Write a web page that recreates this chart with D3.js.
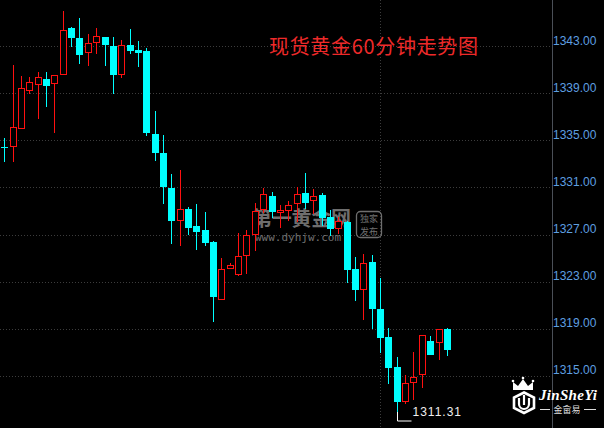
<!DOCTYPE html>
<html>
<head>
<meta charset="utf-8">
<script src="https://cdn.jsdelivr.net/npm/d3@7/dist/d3.min.js"></script>
<style>
html,body{margin:0;padding:0;background:#000;overflow:hidden;}
svg{display:block;}
</style>
</head>
<body>
<div id="chart"></div>
<script>
// ---- data ----
const titleText = "现货黄金60分钟走势图";
const openVals  = [1334.45,1334.50,1336.03,1339.26,1339.77,1340.20,1339.85,1340.62,1344.56,1343.71,
                   1342.49,1343.34,1343.79,1343.03,1340.62,1343.11,1342.69,1342.60,1335.55,1333.93,
                   1330.93,1328.26,1329.14,1327.72,1327.38,1326.36,1321.54,1324.13,1323.64,1325.23,
                   1327.02,1329.17,1330.30,1328.95,1329.07,1329.65,1330.53,1329.91,1330.33,1328.49,
                   1327.53,1328.06,1324.07,1322.40,1324.66,1320.64,1318.26,1315.71,1312.87,1314.44,
                   1315.12,1317.95,1317.84,1318.94];
const highVals  = [1335.20,1341.41,1340.48,1340.36,1340.82,1340.82,1340.54,1346.00,1344.64,1345.41,
                   1344.05,1344.56,1343.79,1343.79,1343.54,1344.47,1343.45,1342.86,1337.50,1335.46,
                   1332.14,1332.48,1329.34,1329.59,1328.91,1326.45,1325.00,1324.58,1327.13,1327.38,
                   1329.65,1330.93,1330.59,1329.51,1329.82,1331.01,1332.23,1330.84,1330.50,1329.06,
                   1328.49,1328.15,1325.06,1325.32,1325.23,1323.30,1319.03,1316.57,1315.03,1317.01,
                   1318.43,1318.37,1318.94,1319.03];
const lowVals   = [1333.28,1333.28,1336.03,1339.06,1336.93,1337.95,1335.74,1340.62,1343.05,1341.61,
                   1341.44,1342.46,1341.44,1339.06,1340.42,1342.46,1341.35,1335.49,1333.36,1329.65,
                   1326.30,1326.11,1327.07,1325.79,1326.13,1319.67,1321.54,1324.13,1323.56,1323.73,
                   1325.71,1328.91,1328.51,1327.67,1328.22,1328.19,1329.23,1328.80,1327.81,1327.00,
                   1327.10,1322.99,1321.46,1319.84,1319.08,1317.04,1314.40,1311.31,1312.65,1312.98,
                   1314.06,1316.87,1316.44,1316.76];
const closeVals = [1334.40,1336.11,1339.43,1339.94,1340.36,1339.74,1340.54,1344.36,1343.82,1342.37,
                   1343.26,1343.85,1343.22,1340.67,1343.09,1342.71,1342.54,1335.74,1334.04,1331.15,
                   1328.26,1329.14,1327.67,1327.32,1326.39,1321.80,1324.04,1324.38,1325.17,1326.93,
                   1328.96,1330.44,1329.03,1329.05,1329.49,1330.42,1329.79,1330.25,1328.51,1327.57,
                   1328.15,1324.09,1322.40,1324.55,1320.78,1318.25,1315.76,1312.87,1314.35,1314.91,
                   1318.43,1316.87,1318.94,1317.29];
const yTickVals = [1343, 1339, 1335, 1331, 1327, 1323, 1319, 1315];
const separatorIdx = [45];
const lowLabel = "1311.31";

// ---- setup ----
const W = 604, H = 428;
const svg = d3.select("#chart").append("svg").attr("width", W).attr("height", H)
  .style("background", "#000");
svg.append("rect").attr("width", W).attr("height", H).attr("fill", "#000");

const candles = openVals.map((o, i) => ({i, o, h: highVals[i], l: lowVals[i], c: closeVals[i]}));

const axisX = 552;
const x = d3.scalePoint().domain(d3.range(candles.length)).range([4.3, 446.9]);
const y = d3.scaleLinear().domain([1315, 1343]).range([375.7, 46.3]);

// horizontal dotted grid
svg.append("g").selectAll("line").data(yTickVals).join("line")
  .attr("x1", 0).attr("x2", axisX)
  .attr("y1", d => Math.round(y(d)) + 0.5).attr("y2", d => Math.round(y(d)) + 0.5)
  .attr("stroke", "#3c3c3c").attr("stroke-dasharray", "1,2");

// vertical dotted separator
svg.append("g").selectAll("line").data(separatorIdx).join("line")
  .attr("x1", d => Math.round(x(d)) + 0.5).attr("x2", d => Math.round(x(d)) + 0.5)
  .attr("y1", 0).attr("y2", H)
  .attr("stroke", "#3c3c3c").attr("stroke-dasharray", "1,2");

// right axis
const axis = d3.axisRight(y).tickValues(yTickVals).tickFormat(d3.format(".2f")).tickSize(0).tickPadding(1);
const gAxis = svg.append("g").attr("transform", `translate(${axisX},0)`).call(axis);
gAxis.select(".domain").remove();
gAxis.selectAll("text").attr("fill", "#5e9fe0").attr("font-size", 12)
  .attr("font-family", "'Liberation Sans', Arial, sans-serif")
  .attr("dy", "-0.15em").attr("x", 1);
svg.append("line").attr("x1", axisX + 0.5).attr("x2", axisX + 0.5).attr("y1", 0).attr("y2", H)
  .attr("stroke", "#4a4f57").attr("stroke-width", 1);

// title
svg.append("text").attr("x", 269).attr("y", 54).text(titleText)
  .attr("fill", "#ee2a2a").attr("font-size", 20).attr("textLength", 209)
  .attr("font-family", "'Noto Sans CJK SC', sans-serif");

// watermark
const wm = svg.append("g").attr("opacity", 0.78);
wm.append("text").attr("x", 252).attr("y", 226).text("第一黄金网")
  .attr("fill", "#8e8e8e").attr("font-size", 20).attr("font-weight", "bold")
  .attr("font-family", "'Noto Sans CJK SC', sans-serif").attr("textLength", 99);
wm.append("text").attr("x", 255).attr("y", 241).text("www.dyhjw.com")
  .attr("fill", "#8e8e8e").attr("font-size", 11)
  .attr("font-family", "'DejaVu Sans Mono', monospace").attr("textLength", 86);
wm.append("rect").attr("x", 356.5).attr("y", 211.5).attr("width", 25).attr("height", 26).attr("rx", 4)
  .attr("fill", "none").attr("stroke", "#8e8e8e").attr("stroke-width", 1.3);
wm.append("text").attr("x", 369).attr("y", 222).attr("text-anchor", "middle").text("独家")
  .attr("fill", "#8e8e8e").attr("font-size", 9).attr("font-family", "'Noto Sans CJK SC', sans-serif");
wm.append("text").attr("x", 369).attr("y", 235).attr("text-anchor", "middle").text("发布")
  .attr("fill", "#8e8e8e").attr("font-size", 9).attr("font-family", "'Noto Sans CJK SC', sans-serif");

// candles
const RED = "#ff1010", CYAN = "#00ffff";
const g = svg.append("g");
const cg = g.selectAll("g.c").data(candles).join("g").attr("class", "c");
cg.append("line")
  .attr("x1", d => Math.round(x(d.i)) + 0.5).attr("x2", d => Math.round(x(d.i)) + 0.5)
  .attr("y1", d => Math.round(y(d.h))).attr("y2", d => Math.round(y(d.l)) + 1)
  .attr("stroke", d => d.c >= d.o ? RED : CYAN);
cg.each(function(d) {
  const cx = Math.round(x(d.i));
  const top = Math.round(y(Math.max(d.o, d.c)));
  const bot = Math.round(y(Math.min(d.o, d.c)));
  const sel = d3.select(this);
  if (d.c >= d.o) {
    sel.append("rect").attr("x", cx - 2.5).attr("y", top + 0.5)
      .attr("width", 6).attr("height", Math.max(1, bot - top))
      .attr("fill", "#000").attr("stroke", RED).attr("stroke-width", 1);
  } else {
    sel.append("rect").attr("x", cx - 3).attr("y", top)
      .attr("width", 7).attr("height", Math.max(1, bot - top + 1))
      .attr("fill", CYAN);
  }
});

// low marker
const lowIdx = d3.minIndex(lowVals);
const lx = Math.round(x(lowIdx)) + 0.5;
const ly = Math.round(y(lowVals[lowIdx]));
svg.append("path")
  .attr("d", `M${lx},${ly - 7}V${ly + 2}H${lx + 14}`)
  .attr("fill", "none").attr("stroke", "#ffffff").attr("stroke-width", 1);
svg.append("text").attr("x", lx + 15).attr("y", ly - 3).text(lowLabel)
  .attr("fill", "#f0f0f0").attr("font-size", 12).attr("letter-spacing", 1)
  .attr("font-family", "'Liberation Sans', Arial, sans-serif");

// logo
const logo = svg.append("g");
logo.append("path")
  .attr("d", "M513,390 L513,382 L518,386 L523,379 L528,386 L533,382 L533,390 Z")
  .attr("fill", "#fff");
[[513,381],[523,378],[533,381]].forEach(p => logo.append("circle").attr("cx", p[0]).attr("cy", p[1]).attr("r", 1.3).attr("fill", "#fff"));
logo.append("path")
  .attr("d", "M524,392.5 L534,397.5 L534,408 L524,413 L514,408 L514,397.5 Z")
  .attr("fill", "none").attr("stroke", "#fff").attr("stroke-width", 2.6);
logo.append("path")
  .attr("d", "M519,398 V404 A5,5 0 0 0 529,404 V398")
  .attr("fill", "none").attr("stroke", "#fff").attr("stroke-width", 2.2);
logo.append("line").attr("x1", 524).attr("x2", 524).attr("y1", 395).attr("y2", 405)
  .attr("stroke", "#fff").attr("stroke-width", 2.2);
logo.append("text").attr("x", 539).attr("y", 400).text("JinSheYi")
  .attr("fill", "#fff").attr("font-size", 15).attr("font-style", "italic").attr("font-weight", "bold")
  .attr("font-family", "'Liberation Serif', 'DejaVu Serif', serif").attr("textLength", 58);
logo.append("line").attr("x1", 540).attr("x2", 550).attr("y1", 409.5).attr("y2", 409.5).attr("stroke", "#ddd");
logo.append("line").attr("x1", 584).attr("x2", 596).attr("y1", 409.5).attr("y2", 409.5).attr("stroke", "#ddd");
logo.append("text").attr("x", 567).attr("y", 413).attr("text-anchor", "middle").text("金畲易")
  .attr("fill", "#ddd").attr("font-size", 9).attr("font-family", "'Noto Sans CJK SC', sans-serif");
</script>
</body>
</html>
